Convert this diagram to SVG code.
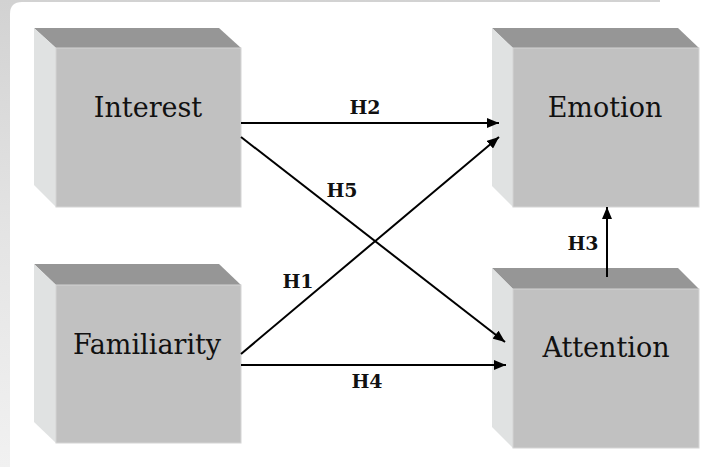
<svg xmlns="http://www.w3.org/2000/svg" width="707" height="467" viewBox="0 0 707 467">
<defs>
<linearGradient id="bgl" x1="0" y1="0" x2="0" y2="1">
<stop offset="0" stop-color="#d2d2d2"/>
<stop offset="0.5" stop-color="#e4e4e4"/>
<stop offset="1" stop-color="#f1f1f1"/>
</linearGradient>
<marker id="ah" viewBox="0 0 12 10" refX="12" refY="5" markerWidth="6" markerHeight="5" orient="auto" markerUnits="strokeWidth">
<path d="M0,0 L12,5 L0,10 Z" fill="#000"/>
</marker>
</defs>
<style>
.top{fill:#969696;}
.side{fill:#e0e2e2;}
.front{fill:#c1c1c1;stroke:#d4d4d4;stroke-width:1;}
.name{font-family:"DejaVu Serif","Liberation Serif",serif;font-size:27px;fill:#111;text-anchor:middle;}
.lab{font-family:"DejaVu Serif","Liberation Serif",serif;font-size:19px;font-weight:bold;fill:#111;text-anchor:middle;}
.con{stroke:#000;stroke-width:2;fill:none;marker-end:url(#ah);}
</style>
<rect x="0" y="0" width="707" height="467" fill="#fff"/>
<path d="M0,0 H660 V2 H22 Q10,2 10,14 V467 H0 Z" fill="url(#bgl)"/>
<g id="interest">
<polygon class="top" points="34,28 219,28 241,48 56,48"/>
<polygon class="side" points="34,28 56,48 56,207 34,185"/>
<rect class="front" x="56" y="48" width="185" height="159"/>
<text class="name" x="148" y="117">Interest</text>
</g>
<g id="familiarity">
<polygon class="top" points="34,264 219,264 241,285 56,285"/>
<polygon class="side" points="34,264 56,285 56,443 34,422"/>
<rect class="front" x="56" y="285" width="185" height="158"/>
<text class="name" x="147" y="354">Familiarity</text>
</g>
<g id="emotion">
<polygon class="top" points="492,28 678,28 699,48 513,48"/>
<polygon class="side" points="492,28 513,48 513,207 492,186"/>
<rect class="front" x="513" y="48" width="186" height="159"/>
<text class="name" x="605" y="117">Emotion</text>
</g>
<g id="attention">
<polygon class="top" points="492,268 678,268 699,289 513,289"/>
<polygon class="side" points="492,268 513,289 513,448 492,427"/>
<rect class="front" x="513" y="289" width="186" height="159"/>
<text class="name" x="606" y="357">Attention</text>
</g>
<g id="connectors">
<line class="con" x1="241" y1="123" x2="499" y2="123"/>
<line class="con" x1="241" y1="137" x2="505" y2="342"/>
<line class="con" x1="241" y1="354" x2="499" y2="137"/>
<line class="con" x1="241" y1="365" x2="506" y2="365"/>
<line class="con" x1="607" y1="277" x2="607" y2="207"/>
</g>
<g id="labels">
<text class="lab" x="365" y="114">H2</text>
<text class="lab" x="342" y="197">H5</text>
<text class="lab" x="298" y="288">H1</text>
<text class="lab" x="367" y="388">H4</text>
<text class="lab" x="583" y="250">H3</text>
</g>
</svg>
